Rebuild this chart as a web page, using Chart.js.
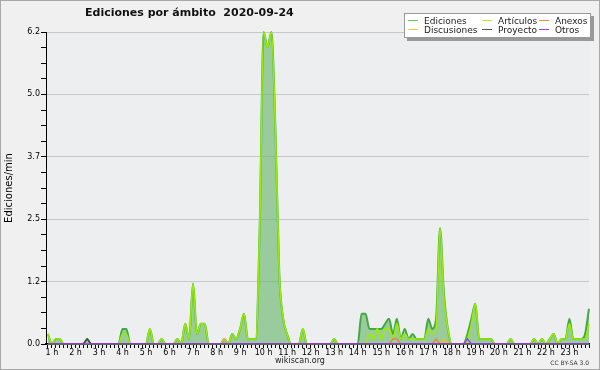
<!DOCTYPE html>
<html>
<head>
<meta charset="utf-8">
<script src="https://cdn.jsdelivr.net/npm/chart.js@4.4.1/dist/chart.umd.min.js"></script>
<style>
  html, body { margin: 0; padding: 0; background: #f0f0f0; }
  #wrap { position: relative; width: 600px; height: 370px; font-family: 'DejaVu Sans', sans-serif; color: #111; }
  #frame { position: absolute; left: 0; top: 0; width: 600px; height: 370px; box-sizing: border-box; border: 1px solid #a8a8a8; pointer-events: none; }
  #title { position: absolute; left: 85px; top: 6px; font-size: 11px; font-weight: bold; white-space: pre; }
  #legend { position: absolute; left: 404px; top: 13px; width: 187px; height: 25px; box-sizing: border-box;
            background: #fff; border: 1px solid #999; box-shadow: 3px 3px 0 #999;
            display: grid; grid-template-columns: 74px 57px auto; grid-template-rows: 9px 9px;
            padding: 2px 0 0 3px; font-size: 9px; color: #222; }
  .item { display: flex; align-items: center; white-space: nowrap; }
  .item i { display: inline-block; width: 10px; height: 1px; margin-right: 6px; }
  #site { position: absolute; left: 0; width: 600px; top: 356px; text-align: center; font-size: 8px; color: #222; }
  #lic { position: absolute; right: 11px; top: 359px; font-size: 6px; color: #333; }
</style>
</head>
<body>
<div id="wrap">
  <canvas id="c" width="600" height="370"></canvas>
  <div id="title">Ediciones por ámbito  2020-09-24</div>
  <div id="legend"></div>
  <div id="site">wikiscan.org</div>
  <div id="lic">CC BY-SA 3.0</div>
  <div id="frame"></div>
</div>
<script>
// ediciones por minuto, un valor cada 10 min, de 1 h a 24 h (una fila por hora)
const ediciones = [
  0.2, 0, 0.1, 0.1, 0, 0,
  0, 0, 0, 0, 0.1, 0,
  0, 0, 0, 0, 0, 0,
  0, 0.3, 0.3, 0, 0, 0,
  0, 0, 0.3, 0, 0, 0.1,
  0, 0, 0, 0.1, 0, 0.4,
  0.1, 1.2, 0.2, 0.4, 0.4, 0,
  0, 0, 0, 0.1, 0, 0.2,
  0.1, 0.3, 0.6, 0.1, 0.1, 0.1,
  2.3, 6.2, 5.9, 6.2, 4.3, 1.4,
  0.5, 0.2, 0, 0, 0, 0.3,
  0, 0, 0, 0, 0, 0,
  0, 0.1, 0, 0, 0, 0,
  0, 0, 0.6, 0.6, 0.3, 0.3,
  0.3, 0.3, 0.4, 0.5, 0.2, 0.5,
  0.1, 0.3, 0.1, 0.2, 0.1, 0.1,
  0.1, 0.5, 0.3, 0.5, 2.3, 1.0,
  0.3, 0, 0, 0, 0, 0.2,
  0.5, 0.8, 0.1, 0.1, 0.1, 0.1,
  0, 0, 0, 0, 0.1, 0,
  0, 0, 0, 0, 0.1, 0,
  0.1, 0, 0.1, 0.2, 0, 0.1,
  0.1, 0.5, 0.1, 0.1, 0.1, 0.2,
  0.7
];
const articulos = [
  0.2, 0, 0.1, 0.1, 0, 0,
  0, 0, 0, 0, 0, 0,
  0, 0, 0, 0, 0, 0,
  0, 0.2, 0.2, 0, 0, 0,
  0, 0, 0.3, 0, 0, 0.1,
  0, 0, 0, 0.1, 0, 0.4,
  0.1, 1.2, 0.2, 0.4, 0.4, 0,
  0, 0, 0, 0, 0, 0.2,
  0.1, 0.3, 0.6, 0.1, 0.1, 0.1,
  2.3, 6.2, 5.9, 6.2, 4.3, 1.4,
  0.5, 0.2, 0, 0, 0, 0.3,
  0, 0, 0, 0, 0, 0,
  0, 0.1, 0, 0, 0, 0,
  0, 0, 0, 0, 0.2, 0.1,
  0.3, 0.1, 0.3, 0.3, 0.1, 0.4,
  0.1, 0.2, 0.1, 0.1, 0.1, 0.1,
  0.1, 0.3, 0.2, 0.3, 2.3, 0.9,
  0.3, 0, 0, 0, 0, 0.1,
  0.4, 0.8, 0.1, 0.1, 0.1, 0.1,
  0, 0, 0, 0, 0.1, 0,
  0, 0, 0, 0, 0.1, 0,
  0.1, 0, 0.1, 0.2, 0, 0.1,
  0.1, 0.4, 0.1, 0.1, 0.1, 0.1,
  0.4
];
const anexos = [
  0, 0, 0, 0, 0, 0,  0, 0, 0, 0, 0, 0,  0, 0, 0, 0, 0, 0,  0, 0, 0, 0, 0, 0,
  0, 0, 0, 0, 0, 0,  0, 0, 0, 0, 0, 0,  0, 0, 0, 0, 0, 0,  0, 0, 0, 0, 0, 0,
  0, 0, 0, 0, 0, 0,  0, 0, 0, 0, 0, 0,  0, 0, 0, 0, 0, 0,  0, 0, 0, 0, 0, 0,
  0, 0, 0, 0, 0, 0,  0, 0, 0, 0, 0, 0,  0, 0, 0, 0, 0.1, 0.1,  0, 0, 0, 0, 0, 0,
  0, 0, 0, 0.1, 0, 0,  0, 0, 0, 0, 0, 0,  0, 0, 0, 0, 0, 0,  0, 0, 0, 0, 0, 0,
  0, 0, 0, 0, 0, 0,  0, 0, 0, 0, 0, 0,  0, 0, 0, 0, 0, 0,  0
];
const discusiones = [
  0, 0, 0, 0, 0, 0,  0, 0, 0, 0, 0, 0,  0, 0, 0, 0, 0, 0,  0, 0, 0, 0, 0, 0,
  0, 0, 0, 0, 0, 0,  0, 0, 0, 0, 0, 0,  0, 0, 0, 0, 0, 0,  0, 0, 0, 0.1, 0, 0,
  0, 0, 0, 0, 0, 0,  0, 0, 0, 0, 0, 0,  0, 0, 0, 0, 0, 0,  0, 0, 0, 0, 0, 0,
  0, 0, 0, 0, 0, 0,  0, 0, 0, 0, 0, 0,  0, 0, 0, 0, 0, 0,  0, 0, 0, 0, 0, 0,
  0, 0, 0, 0, 0, 0.1,  0, 0, 0, 0, 0, 0,  0, 0, 0, 0, 0, 0,  0, 0, 0, 0, 0, 0,
  0, 0, 0, 0, 0, 0,  0, 0, 0, 0, 0, 0,  0, 0, 0, 0, 0, 0,  0
];
const proyecto = [
  0, 0, 0, 0, 0, 0,  0, 0, 0, 0, 0.1, 0,  0, 0, 0, 0, 0, 0,  0, 0, 0, 0, 0, 0,
  0, 0, 0, 0, 0, 0,  0, 0, 0, 0, 0, 0,  0, 0, 0, 0, 0, 0,  0, 0, 0, 0, 0, 0,
  0, 0, 0, 0, 0, 0,  0, 0, 0, 0, 0, 0,  0, 0, 0, 0, 0, 0,  0, 0, 0, 0, 0, 0,
  0, 0, 0, 0, 0, 0,  0, 0, 0, 0, 0, 0,  0, 0, 0, 0, 0, 0,  0, 0, 0, 0, 0, 0,
  0, 0, 0, 0, 0, 0,  0, 0, 0, 0, 0, 0,  0, 0, 0, 0, 0, 0,  0, 0, 0, 0, 0, 0,
  0, 0, 0, 0, 0, 0,  0, 0, 0, 0, 0, 0,  0, 0, 0, 0, 0, 0,  0
];
const otros = [
  0, 0, 0, 0, 0, 0,  0, 0, 0, 0, 0, 0,  0, 0, 0, 0, 0, 0,  0, 0, 0, 0, 0, 0,
  0, 0, 0, 0, 0, 0,  0, 0, 0, 0, 0, 0,  0, 0, 0, 0, 0, 0,  0, 0, 0, 0, 0, 0,
  0, 0, 0, 0, 0, 0,  0, 0, 0, 0, 0, 0,  0, 0, 0, 0, 0, 0,  0, 0, 0, 0, 0, 0,
  0, 0, 0, 0, 0, 0,  0, 0, 0, 0, 0, 0,  0, 0, 0, 0, 0, 0,  0, 0, 0, 0, 0, 0,
  0, 0, 0, 0, 0, 0,  0, 0, 0, 0, 0, 0.1,  0, 0, 0, 0, 0, 0,  0, 0, 0, 0, 0, 0,
  0, 0, 0, 0, 0, 0,  0, 0, 0, 0, 0, 0,  0, 0, 0, 0, 0, 0,  0
];

const hourLabels = ['1 h', '2 h', '3 h', '4 h', '5 h', '6 h', '7 h', '8 h', '9 h', '10 h', '11 h', '12 h',
                    '13 h', '14 h', '15 h', '16 h', '17 h', '18 h', '19 h', '20 h', '21 h', '22 h', '23 h'];
const yTickLabels = ['0.0', '1.2', '2.5', '3.7', '5.0', '6.2'];
const yMax = 6.2;

// orden de la leyenda: filas de tres
const series = [
  { label: 'Ediciones',   data: ediciones,   color: '#44a844', legend: '#66cc66', width: 2,   order: 6 },
  { label: 'Artículos',   data: articulos,   color: '#99ee00', legend: '#bbee22', width: 1.6, order: 5 },
  { label: 'Anexos',      data: anexos,      color: '#ff7733', legend: '#ff8844', width: 1.3, order: 4 },
  { label: 'Discusiones', data: discusiones, color: '#f2c418', legend: '#ffcc33', width: 1.3, order: 3 },
  { label: 'Proyecto',    data: proyecto,    color: '#404040', legend: '#555555', width: 1.3, order: 2 },
  { label: 'Otros',       data: otros,       color: '#9933ff', legend: '#9944ff', width: 1.3, order: 1 }
];

const FONT = "'DejaVu Sans', sans-serif";
Chart.defaults.font.family = FONT;

const legendEl = document.getElementById('legend');
for (const s of series) {
  const d = document.createElement('div');
  d.className = 'item';
  d.innerHTML = '<i style="background:' + s.legend + '"></i>' + s.label;
  legendEl.appendChild(d);
}

const plotBg = {
  id: 'plotBg',
  beforeDraw(chart) {
    const { ctx, chartArea: a } = chart;
    ctx.save();
    ctx.fillStyle = '#eceef0';
    ctx.fillRect(a.left, a.top, a.right - a.left, a.bottom - a.top);
    ctx.restore();
  }
};

new Chart(document.getElementById('c'), {
  type: 'line',
  data: {
    datasets: series.map(s => {
      const main = s.label === 'Ediciones' || s.label === 'Artículos';
      return {
        label: s.label,
        data: s.data.map((v, i) => ({ x: i, y: v })),
        borderColor: s.color,
        borderWidth: s.width,
        backgroundColor: s.label === 'Ediciones' ? 'rgba(100,180,100,0.6)' : s.color,
        fill: s.label === 'Ediciones' ? 'origin' : false,
        pointRadius: 0,
        cubicInterpolationMode: main ? 'monotone' : 'default',
        tension: 0,
        order: s.order,
        clip: { left: 2, top: 5, right: 2, bottom: 0 }
      };
    })
  },
  options: {
    responsive: false,
    animation: false,
    layout: { padding: { left: 0, right: 11, top: 32, bottom: 0 } },
    plugins: { legend: { display: false }, tooltip: { enabled: false } },
    scales: {
      x: {
        type: 'linear', min: -0.5, max: 138, z: 1,
        afterBuildTicks: s => { s.ticks = ediciones.map((_, i) => ({ value: i })); },
        afterFit: s => { s.height = 26; },
        grid: { drawOnChartArea: false, tickLength: 4, tickColor: '#000', tickWidth: 1 },
        border: { color: '#000', width: 1.5 },
        ticks: {
          autoSkip: false, maxRotation: 0, minRotation: 0, padding: 0, labelOffset: 4,
          color: '#000', font: { size: 8 },
          callback: v => (v % 6 === 0 ? (hourLabels[v / 6] || '') : '')
        }
      },
      y: {
        min: 0, max: yMax,
        afterBuildTicks: s => { s.ticks = Array.from({ length: 21 }, (_, i) => ({ value: i * yMax / 20 })); },
        afterFit: s => { s.width = 46; },
        grid: { color: c => (c.index % 4 === 0 ? '#c8c8c8' : 'rgba(0,0,0,0)'), tickColor: '#000', tickLength: 5 },
        border: { color: '#000', width: 1 },
        ticks: { padding: 1, color: '#000', font: { size: 8 }, callback: (v, i) => (i % 4 === 0 ? yTickLabels[i / 4] : '') },
        title: { display: true, text: 'Ediciones/min', color: '#000', font: { size: 10 }, padding: { top: 3, bottom: 0 } }
      }
    }
  },
  plugins: [plotBg]
});
</script>
</body>
</html>
